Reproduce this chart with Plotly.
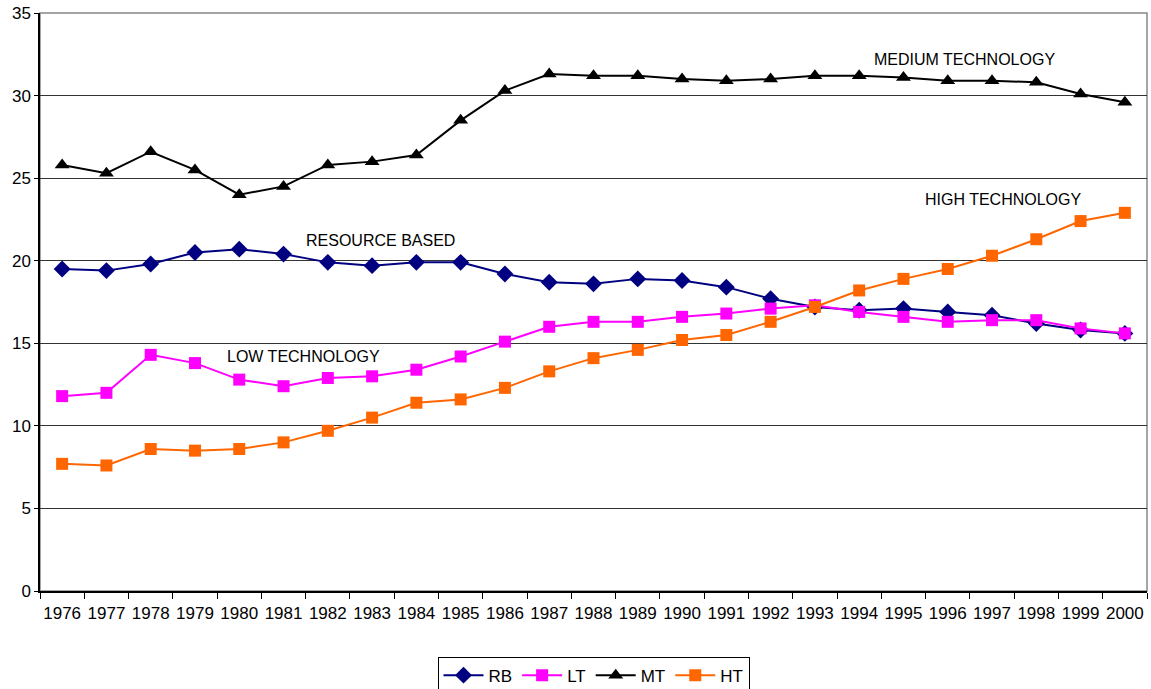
import plotly.graph_objects as go

years = [str(y) for y in range(1976, 2001)]

rb = [19.5, 19.4, 19.8, 20.5, 20.7, 20.4, 19.9, 19.7, 19.9, 19.9, 19.2, 18.7, 18.6,
      18.9, 18.8, 18.4, 17.7, 17.2, 17.0, 17.1, 16.9, 16.7, 16.2, 15.8, 15.6]
lt = [11.8, 12.0, 14.3, 13.8, 12.8, 12.4, 12.9, 13.0, 13.4, 14.2, 15.1, 16.0, 16.3,
      16.3, 16.6, 16.8, 17.1, 17.3, 16.9, 16.6, 16.3, 16.4, 16.4, 15.9, 15.6]
mt = [25.8, 25.3, 26.6, 25.5, 24.0, 24.5, 25.8, 26.0, 26.4, 28.5, 30.3, 31.3, 31.2,
      31.2, 31.0, 30.9, 31.0, 31.2, 31.2, 31.1, 30.9, 30.9, 30.8, 30.1, 29.6]
ht = [7.7, 7.6, 8.6, 8.5, 8.6, 9.0, 9.7, 10.5, 11.4, 11.6, 12.3, 13.3, 14.1,
      14.6, 15.2, 15.5, 16.3, 17.2, 18.2, 18.9, 19.5, 20.3, 21.3, 22.4, 22.9]

series = [
    ("RB", rb, "#000080", "diamond", 13),
    ("LT", lt, "#FF00FF", "square", 12),
    ("MT", mt, "#000000", "triangle-up", 13),
    ("HT", ht, "#FF6600", "square", 12),
]

FONT = "Liberation Sans, Arial, sans-serif"

fig = go.Figure()
for name, vals, color, sym, size in series:
    fig.add_trace(go.Scatter(
        x=years, y=vals, name=name, mode="lines+markers",
        line=dict(color=color, width=2),
        marker=dict(symbol=sym, size=size, color=color),
    ))

labels = [
    ("MEDIUM TECHNOLOGY", 20.37, 32.2),
    ("HIGH TECHNOLOGY", 21.25, 23.7),
    ("RESOURCE BASED", 7.18, 21.2),
    ("LOW TECHNOLOGY", 5.44, 14.2),
]
for text, xi, yv in labels:
    fig.add_annotation(x=xi, y=yv, xref="x", yref="y", text=text, showarrow=False,
                       font=dict(family=FONT, size=16, color="#000000"))

# light grey frame on the top and right of the plotting area
fig.add_shape(type="rect", xref="paper", yref="paper", x0=0, y0=0, x1=1, y1=1,
              line=dict(color="#888888", width=1.5), layer="below")

fig.update_layout(
    width=1151, height=689,
    margin=dict(l=40, r=4, t=13, b=98, autoexpand=False),
    paper_bgcolor="white", plot_bgcolor="white",
    font=dict(family=FONT, size=16, color="#000000"),
    showlegend=True,
    legend=dict(orientation="h", x=0.5, xanchor="center",
                yref="container", y=0.047, yanchor="top",
                bordercolor="#000000", borderwidth=1, font=dict(size=17),
                itemwidth=40, tracegroupgap=0),
    xaxis=dict(
        type="category", range=[-0.5, 24.5], tickson="boundaries",
        ticks="outside", ticklen=6, tickcolor="#000000", tickangle=0,
        showline=True, linecolor="#000000", linewidth=1.5,
        showgrid=False, tickfont=dict(size=17), ticklabelstandoff=6,
    ),
    yaxis=dict(
        range=[0, 35], dtick=5, ticks="outside", ticklen=4, tickcolor="#000000",
        showline=True, linecolor="#000000", linewidth=1.5,
        showgrid=True, gridcolor="#333333", gridwidth=1,
        zeroline=False, tickfont=dict(size=17),
    ),
)

fig.write_html("out.html")
